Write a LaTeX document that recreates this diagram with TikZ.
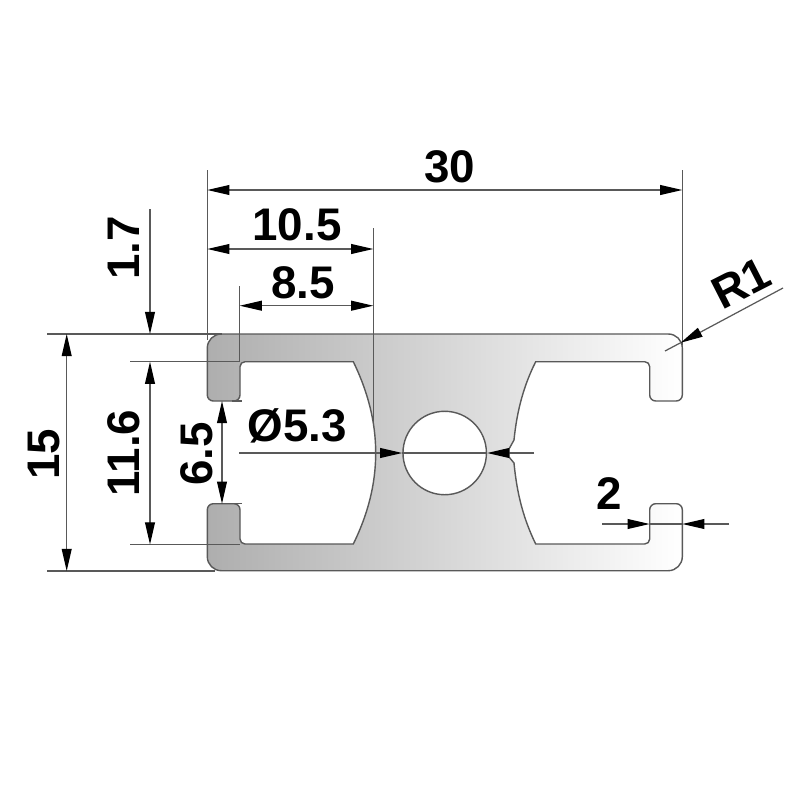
\documentclass[tikz,border=0pt]{standalone}
\usepackage{fontspec}
\setmainfont{Liberation Sans}
\usetikzlibrary{arrows.meta}
\definecolor{profilegray}{HTML}{AEAEAE}
\tikzset{dimline/.style = {draw = black!65, line width = 0.35pt}}
\tikzset{dimtip/.tip = {Triangle[length = 6.3pt, width = 2.8pt, color = black, fill = black]}}
\tikzset{dimarrow/.style = {dimline, -dimtip}}
\tikzset{dimboth/.style = {dimline, dimtip-dimtip}}
\tikzset{dimtext/.style = {font = \bfseries\fontsize{13}{14}\selectfont, inner sep = 0}}
\tikzset{profile/.style = {draw = black!65, line width = 0.4pt, left color = profilegray, right color = white}}

\begin{document}
\begin{tikzpicture}[x = 0.01cm, y = -0.01cm]
    \useasboundingbox (0, 0) rectangle (800, 800);

    \path[profile] (353.3, 361.7) -- (245, 361.7) .. controls (242.2, 361.7) and (240, 363.9) .. (240, 366.7)
        -- (240, 395) .. controls (240, 398.3) and (237.3, 401) .. (234, 401)
        -- (213.3, 401) .. controls (210, 401) and (207.3, 398.3) .. (207.3, 395)
        -- (207.3, 348) .. controls (207.3, 340.3) and (213.6, 334) .. (221.3, 334)
        -- (668.3, 334) .. controls (676, 334) and (682.3, 340.3) .. (682.3, 348)
        -- (682.3, 395) .. controls (682.3, 398.3) and (679.6, 401) .. (676.3, 401)
        -- (655.7, 401) .. controls (652.4, 401) and (649.7, 398.3) .. (649.7, 395)
        -- (649.7, 366.7) .. controls (649.7, 363.9) and (647.5, 361.7) .. (644.7, 361.7)
        -- (535.7, 361.7) .. controls (524, 385) and (517, 410) .. (514, 440)
        -- (509, 449) -- (509, 457) -- (514, 463)
        .. controls (517, 495) and (524, 520) .. (535.7, 544)
        -- (644.7, 544) .. controls (647.5, 544) and (649.7, 541.8) .. (649.7, 539)
        -- (649.7, 509.7) .. controls (649.7, 506.4) and (652.4, 503.7) .. (655.7, 503.7)
        -- (676.3, 503.7) .. controls (679.6, 503.7) and (682.3, 506.4) .. (682.3, 509.7)
        -- (682.3, 556.7) .. controls (682.3, 564.4) and (676, 570.7) .. (668.3, 570.7)
        -- (221.3, 570.7) .. controls (213.6, 570.7) and (207.3, 564.4) .. (207.3, 556.7)
        -- (207.3, 509.7) .. controls (207.3, 506.4) and (210, 503.7) .. (213.3, 503.7)
        -- (234, 503.7) .. controls (237.3, 503.7) and (240, 506.4) .. (240, 509.7)
        -- (240, 539) .. controls (240, 541.8) and (242.2, 544) .. (245, 544)
        -- (353.3, 544) .. controls (368, 514) and (375.7, 484) .. (375.7, 453)
        .. controls (375.7, 422) and (368, 392) .. (353.3, 361.7) -- cycle;
    \node[circle, draw = black!65, fill = white, line width = 0.4pt, inner sep = 0, minimum size = 0.834cm] (hole) at (444.7, 453) {};

    \draw[dimline] (47, 334) -- (222, 334);
    \draw[dimline] (130, 361.7) -- (240, 361.7);
    \draw[dimline] (130, 544.5) -- (240, 544.5);
    \draw[dimline] (47, 571) -- (215, 571);
    \draw[dimline] (207.3, 170) -- (207.3, 340);
    \draw[dimline] (682.3, 170) -- (682.3, 345);
    \draw[dimline] (373.3, 228) -- (373.3, 422);
    \draw[dimline] (239.7, 286) -- (239.7, 362);
    \draw[dimline] (232, 401) -- (242, 401);
    \draw[dimline] (232, 503.7) -- (242, 503.7);

    \draw[dimboth] (207.3, 190) -- (682.3, 190);
    \draw[dimboth] (207.3, 249) -- (373.3, 249);
    \draw[dimboth] (239.7, 305.7) -- (373.3, 305.7);
    \draw[dimboth] (66.7, 334) -- (66.7, 571);
    \draw[dimboth] (150, 361.7) -- (150, 544.5);
    \draw[dimboth] (222, 401) -- (222, 503.7);
    \draw[dimarrow] (150, 209) -- (150, 334);

    \coordinate (diaL) at (239, 453);
    \coordinate (diaR) at (534, 453);
    \draw[dimarrow] (diaL) -- (hole.west);
    \draw[dimarrow] (diaR) -- (hole.east);
    \draw[dimline] (hole.west) -- (hole.east);

    \draw[dimarrow] (602, 524) -- (649.7, 524);
    \draw[dimarrow] (729, 524) -- (682.3, 524);
    \draw[dimline] (649.7, 524) -- (682.3, 524);

    \draw[dimarrow] (783, 288) -- (680.7, 342.7);
    \draw[dimline] (680.7, 342.7) -- (665, 351);

    \node[dimtext] (len) at (450, 167) {30};
    \node[dimtext] (outer) at (297, 225) {10.5};
    \node[dimtext] (inner) at (303, 283) {8.5};
    \node[dimtext, rotate = 90] (wall) at (124, 248) {1.7};
    \node[dimtext, rotate = 90] (gap) at (124, 453) {11.6};
    \node[dimtext, rotate = 90] (height) at (44, 454) {15};
    \node[dimtext, rotate = 90] (slot) at (197, 454) {6.5};
    \node[dimtext] (bore) at (297, 426) {Ø5.3};
    \node[dimtext] (lip) at (609, 494) {2};
    \node[dimtext, rotate = 27] (radius) at (741, 283) {R1};
\end{tikzpicture}
\end{document}
